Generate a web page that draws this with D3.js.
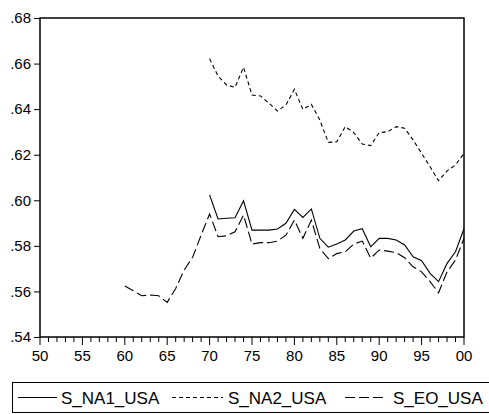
<!DOCTYPE html>
<meta charset="utf-8">
<script src="https://d3js.org/d3.v7.min.js"></script>
<style>
  body { margin: 0; background: #fff; }
  text { font-family: "Liberation Sans", Arial, sans-serif; fill: #000; }
</style>
<div id="chart"></div>
<script>
  // years and series
  const years = d3.range(1960, 2001);
  const naYears = d3.range(1970, 2001);

  const sNA1 = [.6023, .5918, .5921, .5923, .5998, .5869, .5869, .5869, .5874, .5899,
                .5960, .5925, .5962, .5833, .5794, .5808, .5826, .5865, .5875, .5796,
                .5833, .5833, .5826, .5804, .5752, .5735, .5679, .5643, .5723, .5774, .5875];
  const sNA2 = [.6621, .6545, .6506, .6496, .6584, .6462, .6458, .6426, .6392, .6418,
                .6487, .6399, .6421, .6352, .6254, .6257, .6323, .6297, .6247, .6240,
                .6297, .6301, .6323, .6316, .6265, .6206, .6147, .6086, .6129, .6155, .6206];
  const sEO = [.5624, .5603, .5581, .5584, .5581, .5552, .5613, .5694, .5750, .5847,
               .5940, .5840, .5844, .5862, .5935, .5808, .5814, .5814, .5821, .5847,
               .5913, .5833, .5913, .5789, .5744, .5766, .5774, .5808, .5821, .5746,
               .5782, .5777, .5770, .5748, .5708, .5686, .5643, .5594, .5686, .5738, .5833];

  const yTicks = [.54, .56, .58, .60, .62, .64, .66, .68];
  const xTicks = d3.range(1950, 2001, 5);
  const legendNames = ["S_NA1_USA", "S_NA2_USA", "S_EO_USA"];

  const width = 489, height = 414;
  const margin = {left: 40, right: 25, top: 18, bottom: 77};

  const svg = d3.select("#chart").append("svg")
    .attr("width", width)
    .attr("height", height);

  const x = d3.scaleLinear().domain([1950, 2000]).range([margin.left, width - margin.right]);
  const y = d3.scaleLinear().domain([.54, .68]).range([height - margin.bottom, margin.top]);

  // frame
  svg.append("rect")
    .attr("x", x(1950)).attr("y", y(.68))
    .attr("width", x(2000) - x(1950)).attr("height", y(.54) - y(.68))
    .attr("fill", "none").attr("stroke", "#000").attr("stroke-width", 1.5);

  // y axis
  const yAxis = svg.append("g")
    .attr("transform", `translate(${x(1950)},0)`)
    .call(d3.axisLeft(y).tickValues(yTicks).tickSize(6).tickPadding(3)
      .tickFormat(d => d3.format(".2f")(d).replace(/^0/, "")));
  yAxis.select(".domain").remove();
  yAxis.selectAll("line").attr("stroke", "#000");
  yAxis.selectAll("text").style("font-size", "15px").style("font-family", "Liberation Sans, Arial, sans-serif");

  // x axis: minor ticks every year, major every five
  const xg = svg.append("g").attr("transform", `translate(0,${y(.54)})`);
  xg.selectAll("line.minor")
    .data(d3.range(1950, 2001))
    .join("line")
    .attr("x1", d => x(d)).attr("x2", d => x(d))
    .attr("y1", 0).attr("y2", d => d % 5 === 0 ? 8 : 5)
    .attr("stroke", "#000");
  xg.selectAll("text")
    .data(xTicks)
    .join("text")
    .attr("x", d => x(d))
    .attr("y", 24)
    .attr("text-anchor", "middle")
    .style("font-size", "15px")
    .text(d => String(d % 100).padStart(2, "0"));

  // lines
  const line = d3.line()
    .defined(d => d[1] != null)
    .x(d => x(d[0]))
    .y(d => y(d[1]));

  const series = [
    {data: naYears.map((yr, i) => [yr, sNA1[i]]), dash: null},
    {data: naYears.map((yr, i) => [yr, sNA2[i]]), dash: "4,3"},
    {data: years.map((yr, i) => [yr, sEO[i]]), dash: "10,4"}
  ];

  svg.append("g").selectAll("path")
    .data(series)
    .join("path")
    .attr("d", d => line(d.data))
    .attr("fill", "none")
    .attr("stroke", "#000")
    .attr("stroke-width", 1.1)
    .attr("stroke-dasharray", d => d.dash);

  // legend
  const lg = svg.append("g");
  lg.append("rect")
    .attr("x", 12.5).attr("y", 382.5)
    .attr("width", 480).attr("height", 30)
    .attr("fill", "none").attr("stroke", "#000").attr("stroke-width", 1);

  const legendItems = [
    {x1: 18, x2: 57, tx: 61, dash: null},
    {x1: 172, x2: 223, tx: 228, dash: "4,3"},
    {x1: 345, x2: 387, tx: 393, dash: "10,4"}
  ];
  legendItems.forEach((it, i) => {
    lg.append("line")
      .attr("x1", it.x1).attr("x2", it.x2)
      .attr("y1", 397.5).attr("y2", 397.5)
      .attr("stroke", "#000").attr("stroke-width", 1.1)
      .attr("stroke-dasharray", it.dash);
    lg.append("text")
      .attr("x", it.tx).attr("y", 403.5)
      .style("font-size", "17px")
      .text(legendNames[i]);
  });
</script>
